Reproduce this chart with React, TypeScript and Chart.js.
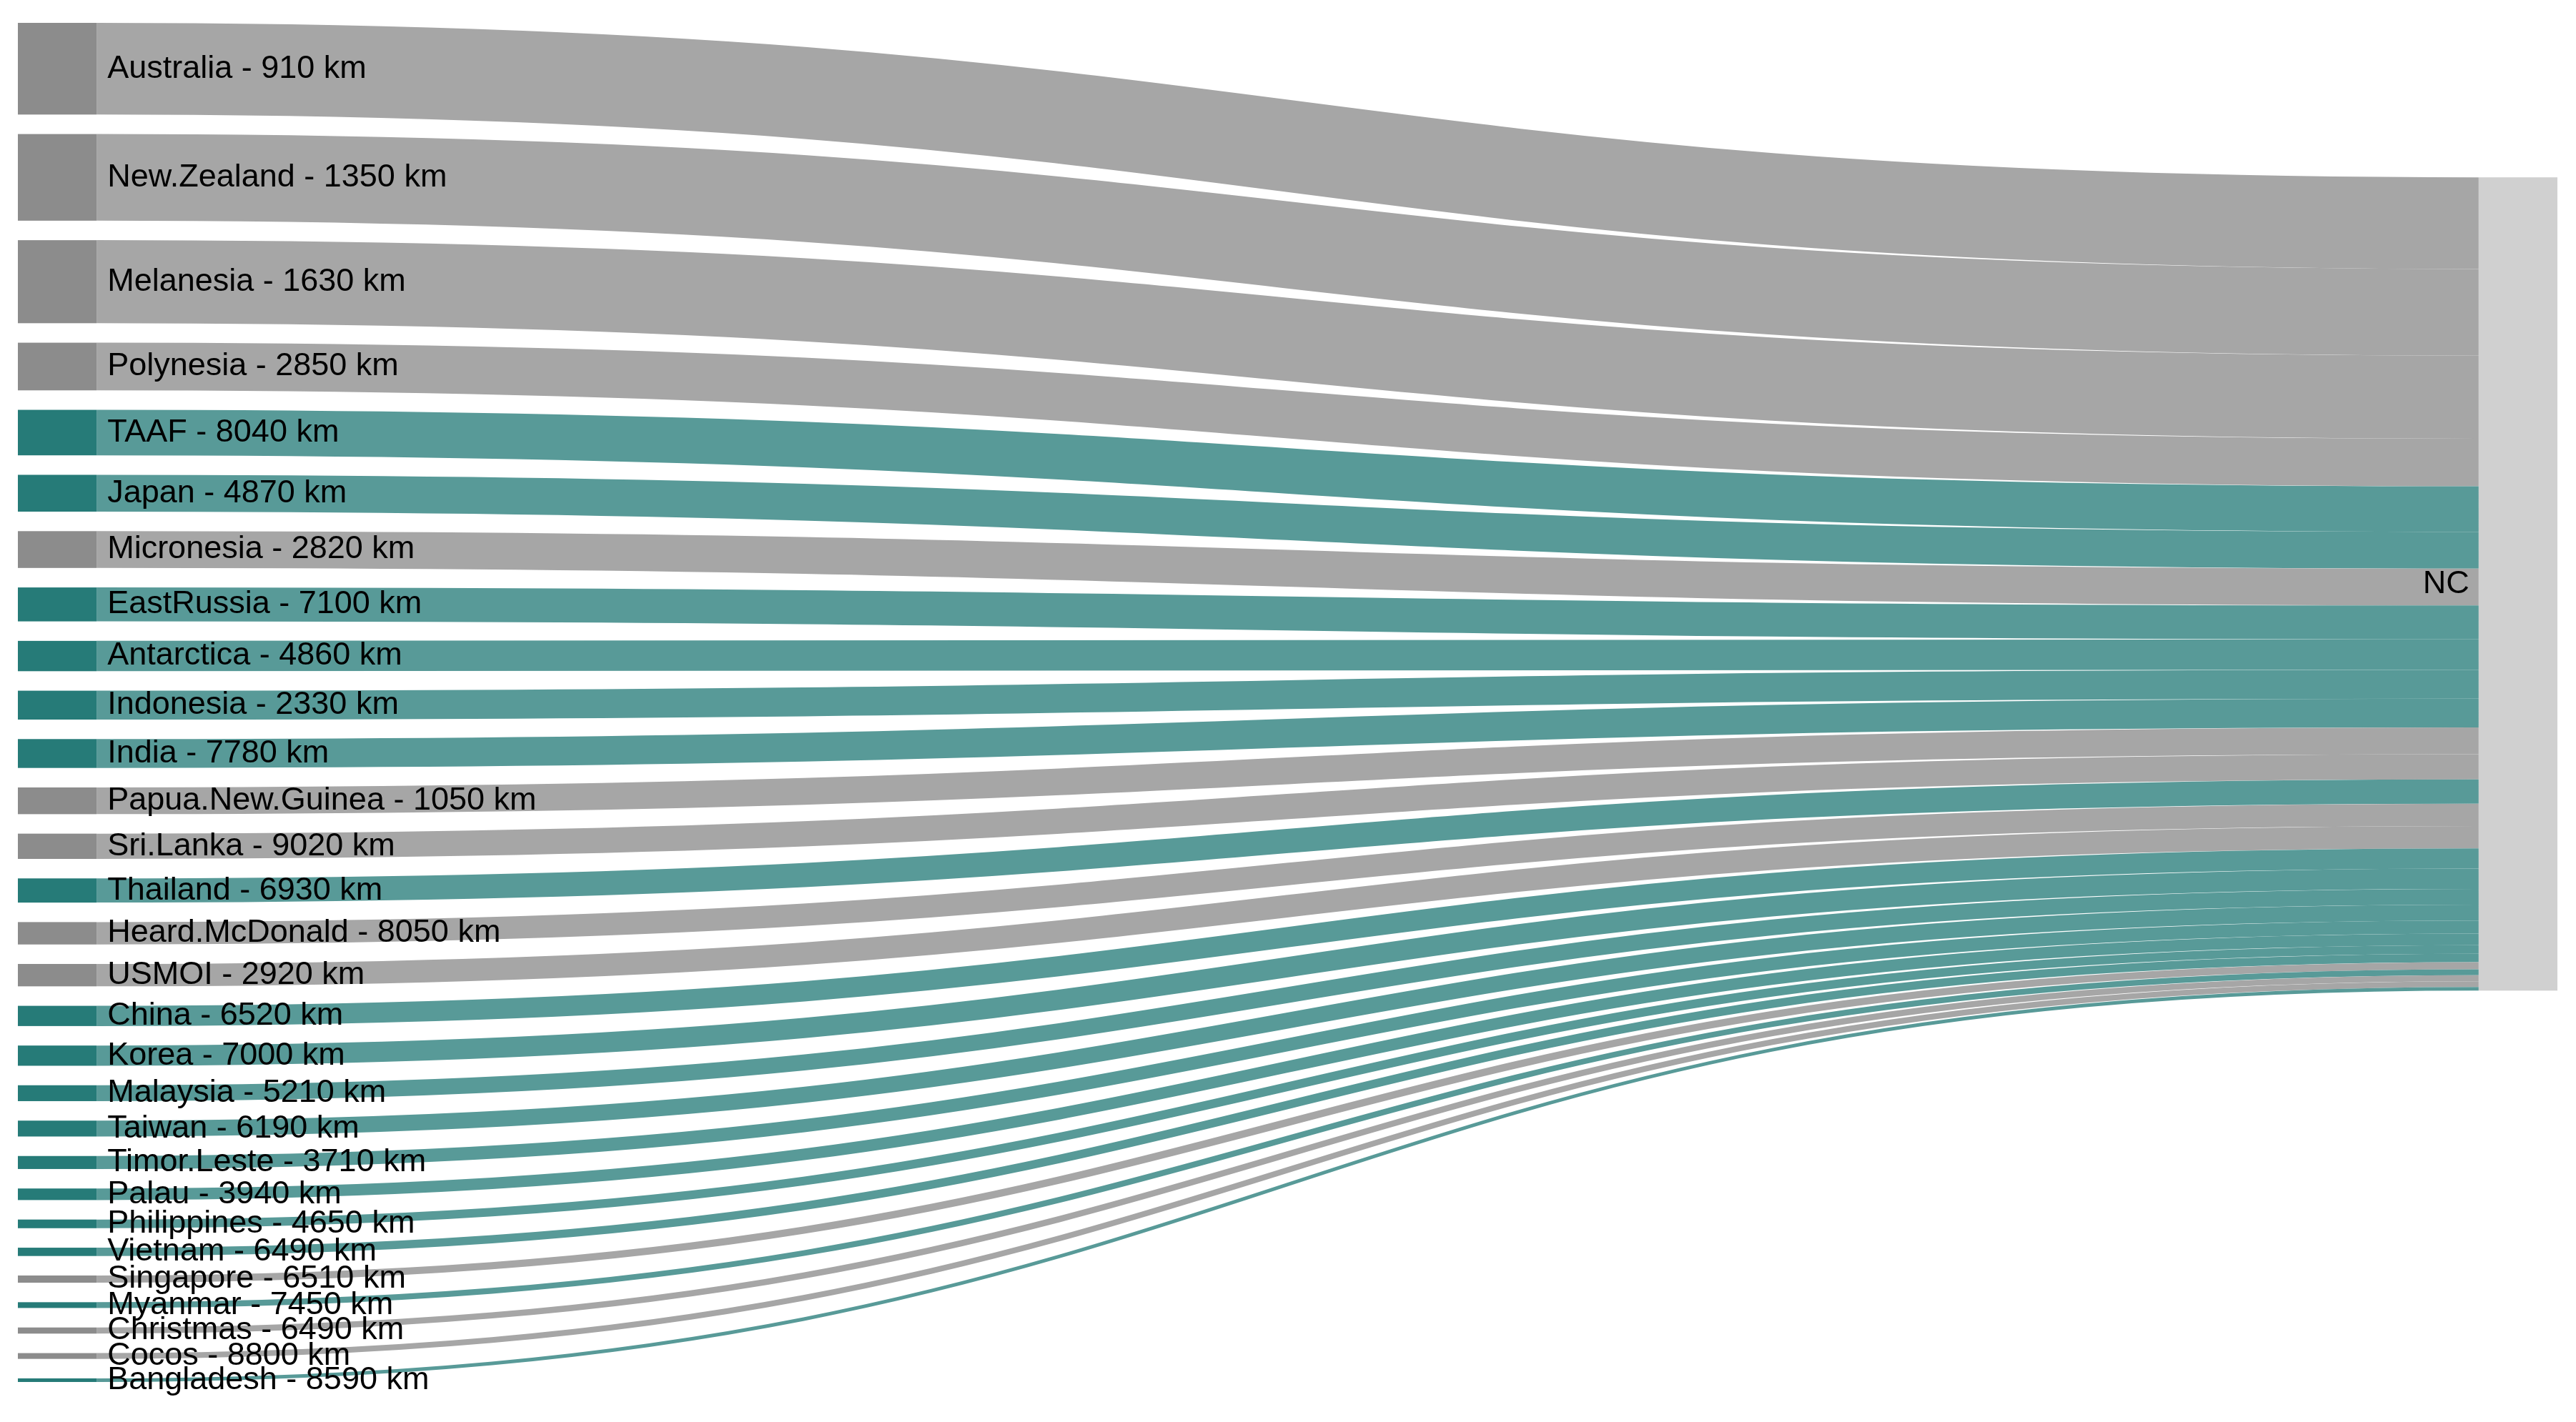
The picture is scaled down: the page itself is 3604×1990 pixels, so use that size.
import React, { useEffect, useRef } from "react";
import { Chart, registerables } from "chart.js";

Chart.register(...registerables);

// ---- data ----
const sourceNames = [
  "Australia", "New.Zealand", "Melanesia", "Polynesia", "TAAF", "Japan", "Micronesia",
  "EastRussia", "Antarctica", "Indonesia", "India", "Papua.New.Guinea", "Sri.Lanka",
  "Thailand", "Heard.McDonald", "USMOI", "China", "Korea", "Malaysia", "Taiwan",
  "Timor.Leste", "Palau", "Philippines", "Vietnam", "Singapore", "Myanmar",
  "Christmas", "Cocos", "Bangladesh",
];
const distancesKm = [
  910, 1350, 1630, 2850, 8040, 4870, 2820, 7100, 4860, 2330, 7780, 1050, 9020,
  6930, 8050, 2920, 6520, 7000, 5210, 6190, 3710, 3940, 4650, 6490, 6510, 7450,
  6490, 8800, 8590,
];
const flowValues = [
  127, 120, 115, 66, 63, 51, 51, 47, 42, 40, 40, 37, 35, 33.5, 31, 31, 28, 28,
  22, 22, 18, 16, 12, 11.5, 10, 8, 8.5, 8, 5,
];
const nodeGroups = [
  "grey", "grey", "grey", "grey", "teal", "teal", "grey", "teal", "teal", "teal",
  "teal", "grey", "grey", "teal", "grey", "grey", "teal", "teal", "teal", "teal",
  "teal", "teal", "teal", "teal", "grey", "teal", "grey", "grey", "teal",
];
const targetName = "NC";

// ---- style ----
const NODE_COLORS: Record<string, string> = { grey: "#8c8c8c", teal: "#267b78" };
const LINK_COLORS: Record<string, string> = { grey: "#a6a6a6", teal: "#589a98" };
const TARGET_COLOR = "#d0d0d0";
const NODE_PADDING = 27; // in flow units
const NODE_WIDTH = 0.031; // fraction of x range
const FONT = '45px "Liberation Sans", Arial, Helvetica, sans-serif';

function buildLayout() {
  const total = flowValues.reduce((a, b) => a + b, 0);
  const yMax = total + NODE_PADDING * (flowValues.length - 1);
  let acc = 0;
  const nodes = flowValues.map((v) => {
    const y0 = acc;
    acc += v + NODE_PADDING;
    return { y0, y1: y0 + v };
  });
  let wsum = 0;
  nodes.forEach((n, i) => {
    wsum += flowValues[i] * (n.y0 + n.y1) / 2;
  });
  const center = wsum / total;
  let ty0 = center - total / 2;
  if (ty0 < 0) ty0 = 0;
  if (ty0 + total > yMax) ty0 = yMax - total;
  return { total, yMax, nodes, ty0 };
}

export default function App() {
  const canvasRef = useRef<HTMLCanvasElement | null>(null);

  useEffect(() => {
    const canvas = canvasRef.current;
    if (!canvas) return;
    const layout = buildLayout();

    const sankeyPlugin = {
      id: "sankeyDraw",
      afterDatasetsDraw(chart: any) {
        const ctx = chart.ctx as CanvasRenderingContext2D;
        const xs = chart.scales.x;
        const ys = chart.scales.y;
        const px = (v: number) => xs.getPixelForValue(v);
        const py = (v: number) => ys.getPixelForValue(v);

        const srcX0 = px(0);
        const srcX1 = px(NODE_WIDTH);
        const tgtX0 = px(1 - NODE_WIDTH);
        const tgtX1 = px(1);

        // links
        ctx.save();
        let tAcc = layout.ty0;
        layout.nodes.forEach((n, i) => {
          const v = flowValues[i];
          const yS = py((n.y0 + n.y1) / 2);
          const yT = py(tAcc + v / 2);
          tAcc += v;
          const w = Math.abs(py(v) - py(0));
          const xm = (srcX1 + tgtX0) / 2;
          ctx.beginPath();
          ctx.moveTo(srcX1, yS);
          ctx.bezierCurveTo(xm, yS, xm, yT, tgtX0, yT);
          ctx.lineWidth = w;
          ctx.lineCap = "butt";
          ctx.strokeStyle = LINK_COLORS[nodeGroups[i]];
          ctx.stroke();
        });

        // source nodes
        layout.nodes.forEach((n, i) => {
          const top = py(n.y0);
          const bot = py(n.y1);
          ctx.fillStyle = NODE_COLORS[nodeGroups[i]];
          ctx.fillRect(srcX0, top, srcX1 - srcX0, bot - top);
        });

        // target node
        const tTop = py(layout.ty0);
        const tBot = py(layout.ty0 + layout.total);
        ctx.fillStyle = TARGET_COLOR;
        ctx.fillRect(tgtX0, tTop, tgtX1 - tgtX0, tBot - tTop);

        // labels
        ctx.font = FONT;
        ctx.fillStyle = "#000000";
        ctx.textBaseline = "middle";
        ctx.textAlign = "left";
        layout.nodes.forEach((n, i) => {
          const yc = py((n.y0 + n.y1) / 2);
          ctx.fillText(`${sourceNames[i]} - ${distancesKm[i]} km`, srcX1 + 15, yc);
        });
        ctx.textAlign = "right";
        ctx.fillText(targetName, tgtX0 - 13, (tTop + tBot) / 2);
        ctx.restore();
      },
    };

    const chart = new Chart(canvas, {
      type: "scatter",
      data: { datasets: [{ data: [] }] },
      options: {
        animation: false,
        responsive: false,
        maintainAspectRatio: false,
        layout: { padding: { left: 25, right: 26, top: 32, bottom: 56 } },
        scales: {
          x: { type: "linear", min: 0, max: 1, display: false },
          y: { type: "linear", min: 0, max: layout.yMax, reverse: true, display: false },
        },
        plugins: { legend: { display: false }, tooltip: { enabled: false } },
        events: [],
      },
      plugins: [sankeyPlugin],
    });
    return () => chart.destroy();
  }, []);

  return (
    <div
      style={{
        position: "fixed",
        left: 0,
        top: 0,
        width: 3604,
        height: 1990,
        background: "#ffffff",
      }}
    >
      <canvas ref={canvasRef} width={3604} height={1990} style={{ display: "block" }} />
    </div>
  );
}
